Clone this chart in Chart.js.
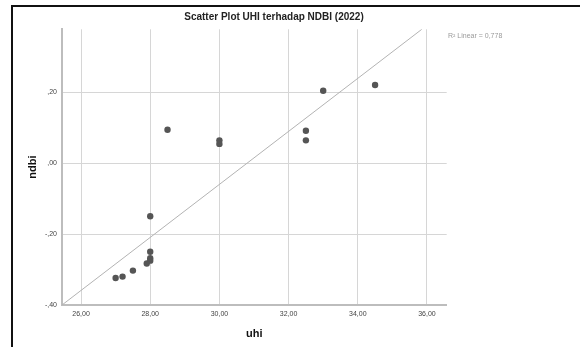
<!DOCTYPE html>
<html>
<head>
<meta charset="utf-8">
<script src="https://cdn.jsdelivr.net/npm/chart.js@4"></script>
<style>
  body { margin: 0; background: #fff; font-family: "Liberation Sans", Arial, sans-serif; }
  #wrap { position: relative; width: 580px; height: 347px; overflow: hidden; }
  #frame { position: absolute; left: 11px; top: 5px; width: 640px; height: 420px; border: 2px solid #111; }
  #title { position: absolute; left: 0; width: 548px; top: 11px; text-align: center; font-size: 10px; font-weight: bold; color: #222; }
  #r2 { position: absolute; left: 448px; top: 32px; font-size: 7px; color: #9a9a9a; }
  canvas { position: absolute; left: 0; top: 0; }
</style>
</head>
<body>
<div id="wrap">
  <div id="frame"></div>
  <canvas id="chart" width="580" height="347"></canvas>
  <div id="title">Scatter Plot UHI terhadap NDBI (2022)</div>
  <div id="r2">R² Linear = 0,778</div>
</div>
<script>
// values
const uhi  = [27.0, 27.2, 27.5, 27.9, 28.0, 28.0, 28.0, 28.0, 28.5, 30.0, 30.0, 32.5, 32.5, 33.0, 34.5];
const ndbi = [-0.324, -0.320, -0.303, -0.283, -0.275, -0.268, -0.250, -0.150, 0.094, 0.064, 0.054, 0.091, 0.064, 0.204, 0.220];

// fit line end points as drawn
const fitX = [25.45, 35.85];
const fitY = [-0.40, 0.377];

const xMin = 25.45, xMax = 36.57, xStep = 2;
const yMin = -0.40, yMax = 0.377, yStep = 0.2;

const commaNum = v => v.toFixed(2).replace('.', ',');
const spssNum = v => commaNum(v).replace(/^(-?)0,/, '$1,');

Chart.defaults.font.family = '"Liberation Sans", Arial, sans-serif';

new Chart(document.getElementById('chart'), {
  type: 'scatter',
  data: {
    datasets: [
      {
        data: uhi.map((x, i) => ({ x: x, y: ndbi[i] })),
        backgroundColor: '#555',
        borderColor: '#555',
        pointRadius: 3.2,
        borderWidth: 0
      },
      {
        data: fitX.map((x, i) => ({ x: x, y: fitY[i] })),
        showLine: true,
        borderColor: '#b3b3b3',
        borderWidth: 1,
        pointRadius: 0
      }
    ]
  },
  options: {
    responsive: false,
    animation: false,
    layout: { padding: { left: 20, right: 133.3, top: 29.3, bottom: 0 } },
    plugins: { legend: { display: false }, tooltip: { enabled: false } },
    scales: {
      x: {
        type: 'linear', min: xMin, max: xMax,
        grid: { color: '#d6d6d6', lineWidth: 1, drawTicks: false },
        border: { color: '#bdbdbd', width: 2 },
        ticks: { stepSize: xStep, includeBounds: false, padding: 5, color: '#444', font: { size: 7 }, maxRotation: 0, callback: v => commaNum(v) },
        title: { display: true, text: 'uhi', color: '#111', font: { size: 11, weight: 'bold' }, padding: { bottom: 6 } },
        afterFit: s => { s.height = 42; }
      },
      y: {
        type: 'linear', min: yMin, max: yMax,
        grid: { color: '#d6d6d6', lineWidth: 1, drawTicks: false },
        border: { color: '#bdbdbd', width: 2 },
        ticks: { stepSize: yStep, includeBounds: false, padding: 5, color: '#444', font: { size: 7 }, callback: v => spssNum(v) },
        title: { display: true, text: 'ndbi', color: '#111', font: { size: 11, weight: 'bold' }, padding: { top: 6 } },
        afterFit: s => { s.width = 42; }
      }
    }
  }
});
</script>
</body>
</html>
